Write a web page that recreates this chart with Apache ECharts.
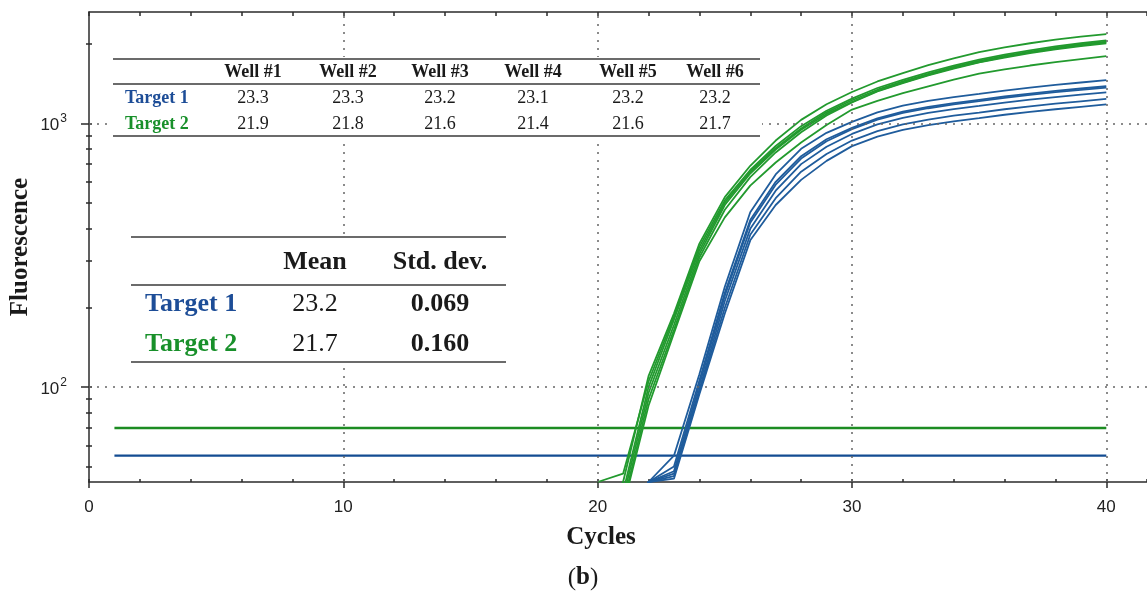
<!DOCTYPE html>
<html>
<head>
<meta charset="UTF-8">
<title>Amplification curves</title>
<script src="https://cdn.jsdelivr.net/npm/echarts@6/dist/echarts.min.js"></script>
<style>
  html, body { margin: 0; padding: 0; background: #fff; overflow: hidden; }
  #chart { width: 1147px; height: 591px; }
</style>
</head>
<body>
<div id="chart"></div>
<script>
// cycles shown for the amplification curves
var cycles = [20, 21, 22, 23, 24, 25, 26, 27, 28, 29, 30, 31, 32, 33, 34, 35, 36, 37, 38, 39, 40];

// Target 1 (blue), one row per well
var target1 = [
  [25, 30, 43.7, 55, 112, 240, 460, 640, 800, 920, 1012, 1100, 1166, 1215, 1257, 1292, 1330, 1365, 1397, 1427, 1456],
  [25, 30, 43.7, 50, 106, 228, 430, 600, 750, 870, 960, 1044, 1107, 1154, 1193, 1227, 1263, 1295, 1326, 1354, 1381],
  [25, 30, 43.7, 48, 102, 222, 420, 585, 735, 855, 950, 1032, 1094, 1140, 1180, 1213, 1249, 1280, 1311, 1338, 1365],
  [25, 30, 43.7, 47, 98, 212, 398, 555, 700, 815, 911, 990, 1049, 1094, 1132, 1163, 1198, 1228, 1257, 1284, 1310],
  [25, 30, 43.7, 46, 96, 200, 378, 520, 655, 765, 860, 934, 990, 1032, 1068, 1097, 1130, 1158, 1186, 1211, 1236],
  [25, 30, 43.7, 45, 94, 190, 360, 490, 610, 720, 819, 890, 943, 983, 1017, 1046, 1077, 1104, 1130, 1154, 1178]
];

// Target 2 (green), one row per well
var target2 = [
  [30, 43.7, 110, 190, 350, 525, 690, 860, 1030, 1180, 1314, 1440, 1550, 1660, 1760, 1860, 1940, 2010, 2075, 2130, 2175],
  [43.7, 47, 105, 185, 340, 510, 665, 820, 975, 1115, 1240, 1360, 1460, 1560, 1655, 1742, 1820, 1890, 1955, 2010, 2060],
  [30, 40, 100, 180, 330, 500, 655, 805, 955, 1100, 1222, 1340, 1440, 1540, 1635, 1722, 1800, 1870, 1935, 1990, 2040],
  [30, 38, 95, 172, 320, 490, 645, 795, 945, 1085, 1204, 1325, 1425, 1525, 1620, 1706, 1785, 1855, 1920, 1975, 2027],
  [30, 36, 90, 165, 310, 470, 625, 775, 925, 1070, 1200, 1320, 1420, 1520, 1612, 1700, 1775, 1845, 1905, 1960, 2010],
  [30, 35, 85, 160, 300, 440, 580, 710, 845, 985, 1127, 1215, 1300, 1380, 1462, 1542, 1600, 1655, 1705, 1750, 1795]
];

// threshold lines
var thresholdCycles = [1, 40];
var threshold1 = [55, 55];
var threshold2 = [70, 70];

// axis ticks and dotted grid
var yMinorTicks = [50, 60, 70, 80, 90, 100, 200, 300, 400, 500, 600, 700, 800, 900, 1000, 2000];
var yMajorTicks = [100, 1000];
var gridValuesY = [100, 1000];
var gridValuesX = [10, 20, 30, 40];

// tables
var wellNames = ['Well #1', 'Well #2', 'Well #3', 'Well #4', 'Well #5', 'Well #6'];
var ctTarget1 = ['23.3', '23.3', '23.2', '23.1', '23.2', '23.2'];
var ctTarget2 = ['21.9', '21.8', '21.6', '21.4', '21.6', '21.7'];
var rowNames = ['Target 1', 'Target 2'];
var summaryHeader = ['Mean', 'Std. dev.'];
var summaryTarget1 = ['23.2', '0.069'];
var summaryTarget2 = ['21.7', '0.160'];

var BLUE = '#1f5c9c';
var GREEN = '#229a2e';
var BLUE_TXT = '#1d4d97';
var GREEN_TXT = '#18902a';
var AXIS = '#2b2b2b';
var SERIF = '"Liberation Serif", "Times New Roman", serif';
var SANS = '"Liberation Sans", Arial, sans-serif';

var chart = echarts.init(document.getElementById('chart'));

function pairs(xs, ys) {
  return xs.map(function (x, i) { return [x, ys[i]]; });
}

var series = [];
target2.forEach(function (vals, i) {
  series.push({
    name: 'Target 2 well ' + (i + 1), type: 'line', data: pairs(cycles, vals),
    symbol: 'none', silent: true, z: 3,
    lineStyle: { color: GREEN, width: 1.8 }
  });
});
target1.forEach(function (vals, i) {
  series.push({
    name: 'Target 1 well ' + (i + 1), type: 'line', data: pairs(cycles, vals),
    symbol: 'none', silent: true, z: 3,
    lineStyle: { color: BLUE, width: 1.8 }
  });
});
var gridMarks = gridValuesY.map(function (v) { return { yAxis: v }; })
  .concat(gridValuesX.map(function (v) { return { xAxis: v }; }));
series.push({
  name: 'Threshold 2', type: 'line', data: pairs(thresholdCycles, threshold2),
  symbol: 'none', silent: true, z: 2,
  lineStyle: { color: '#1c8c22', width: 2.4 },
  markLine: {
    silent: true, symbol: 'none', label: { show: false },
    lineStyle: { color: '#666', type: [2, 6], width: 1.5 },
    data: gridMarks
  }
});
series.push({
  name: 'Threshold 1', type: 'line', data: pairs(thresholdCycles, threshold1),
  symbol: 'none', silent: true, z: 2,
  lineStyle: { color: '#134c92', width: 2.4 }
});

// --- tables drawn as graphic elements ---
var g = [];
function txt(x, y, s, font, color, align) {
  g.push({
    type: 'text', x: x, y: y, z: 100,
    style: { text: s, font: font, fill: color || '#1a1a1a', textAlign: align || 'center', textVerticalAlign: 'middle' }
  });
}
function hline(x1, x2, y) {
  g.push({ type: 'line', z: 100, shape: { x1: x1, y1: y, x2: x2, y2: y }, style: { stroke: '#3a3a3a', lineWidth: 1.5 } });
}

// well table
var wellColX = [253, 348, 440, 533, 628, 715];
g.push({ type: 'rect', z: 99, shape: { x: 112, y: 57, width: 650, height: 81 }, style: { fill: '#fff' } });
hline(113, 760, 59);
hline(113, 760, 84);
hline(113, 760, 136);
wellNames.forEach(function (w, i) { txt(wellColX[i], 72, w, 'bold 18px ' + SERIF); });
txt(125, 98, rowNames[0], 'bold 18px ' + SERIF, BLUE_TXT, 'left');
txt(125, 124, rowNames[1], 'bold 18px ' + SERIF, GREEN_TXT, 'left');
ctTarget1.forEach(function (v, i) { txt(wellColX[i], 98, v, '18px ' + SERIF); });
ctTarget2.forEach(function (v, i) { txt(wellColX[i], 124, v, '18px ' + SERIF); });

// summary table
var sumColX = [315, 440];
g.push({ type: 'rect', z: 99, shape: { x: 130, y: 235, width: 378, height: 130 }, style: { fill: '#fff' } });
hline(131, 506, 237);
hline(131, 506, 285);
hline(131, 506, 362);
summaryHeader.forEach(function (h, i) { txt(sumColX[i], 262, h, 'bold 26px ' + SERIF); });
txt(145, 304, rowNames[0], 'bold 26px ' + SERIF, BLUE_TXT, 'left');
txt(145, 344, rowNames[1], 'bold 26px ' + SERIF, GREEN_TXT, 'left');
txt(sumColX[0], 304, summaryTarget1[0], '26px ' + SERIF);
txt(sumColX[1], 304, summaryTarget1[1], 'bold 26px ' + SERIF);
txt(sumColX[0], 344, summaryTarget2[0], '26px ' + SERIF);
txt(sumColX[1], 344, summaryTarget2[1], 'bold 26px ' + SERIF);

// panel label
g.push({
  type: 'text', x: 583, y: 578, z: 100,
  style: {
    text: '{p|(}{b|b}{p|)}', textAlign: 'center', textVerticalAlign: 'middle',
    rich: {
      p: { font: '25px ' + SERIF, fill: '#1a1a1a' },
      b: { font: 'bold 25px ' + SERIF, fill: '#1a1a1a' }
    }
  }
});

// the plot runs past the right edge of the picture
var xMax = 41.6;
var yMin = 43.7, yMax = 2640;

var option = {
  animation: false,
  backgroundColor: '#fff',
  grid: { left: 89, right: 0, top: 12, bottom: 109, outerBoundsMode: 'none', containLabel: false },
  xAxis: [
    {
      type: 'value', position: 'bottom', min: 0, max: xMax, interval: 10,
      name: 'Cycles', nameLocation: 'middle', nameGap: 43,
      nameTextStyle: { fontFamily: SERIF, fontWeight: 'bold', fontSize: 25, color: '#1a1a1a', padding: [0, 34, 0, 0] },
      axisLine: { lineStyle: { color: AXIS, width: 1.5 } },
      axisTick: { show: true, length: 6, lineStyle: { color: AXIS, width: 1.5 } },
      axisLabel: { fontFamily: SANS, fontSize: 17, color: '#222', margin: 17, showMaxLabel: false },
      splitLine: { show: false }
    },
    {
      type: 'value', position: 'bottom', min: 0, max: xMax, interval: 2,
      axisLine: { show: false },
      axisTick: { show: true, inside: true, length: 3, lineStyle: { color: AXIS, width: 1.5 } },
      axisLabel: { show: false }, splitLine: { show: false }
    },
    {
      type: 'value', position: 'top', min: 0, max: xMax, interval: 2,
      axisLine: { show: true, lineStyle: { color: AXIS, width: 1.5 } },
      axisTick: { show: true, inside: true, length: 4, lineStyle: { color: AXIS, width: 1.5 } },
      axisLabel: { show: false }, splitLine: { show: false }
    }
  ],
  yAxis: [
    {
      type: 'log', position: 'left', min: yMin, max: yMax,
      name: 'Fluorescence', nameLocation: 'middle', nameGap: 56, nameMoveOverlap: false,
      nameTextStyle: { fontFamily: SERIF, fontWeight: 'bold', fontSize: 25, color: '#1a1a1a' },
      axisLine: { show: true, lineStyle: { color: AXIS, width: 1.5 } },
      axisTick: { show: true, length: 3, customValues: yMinorTicks, lineStyle: { color: AXIS, width: 1.5 } },
      axisLabel: {
        customValues: yMajorTicks, margin: 22,
        formatter: function (v) { return '{b|10}{s|' + Math.round(Math.log10(v)) + '}'; },
        rich: {
          b: { fontFamily: SANS, fontSize: 17, color: '#222', verticalAlign: 'bottom' },
          s: { fontFamily: SANS, fontSize: 12, color: '#222', verticalAlign: 'top', padding: [0, 0, 9, 1] }
        }
      },
      splitLine: { show: false }
    },
    {
      type: 'log', position: 'left', min: yMin, max: yMax,
      axisLine: { show: false },
      axisTick: { show: true, inside: true, length: 3, customValues: yMinorTicks, lineStyle: { color: AXIS, width: 1.5 } },
      axisLabel: { show: false }, splitLine: { show: false }
    },
    {
      type: 'log', position: 'left', min: yMin, max: yMax,
      axisLine: { show: false },
      axisTick: { show: true, length: 8, customValues: yMajorTicks, lineStyle: { color: AXIS, width: 1.5 } },
      axisLabel: { show: false }, splitLine: { show: false }
    }
  ],
  series: series,
  graphic: { elements: g }
};

chart.setOption(option);
</script>
</body>
</html>
